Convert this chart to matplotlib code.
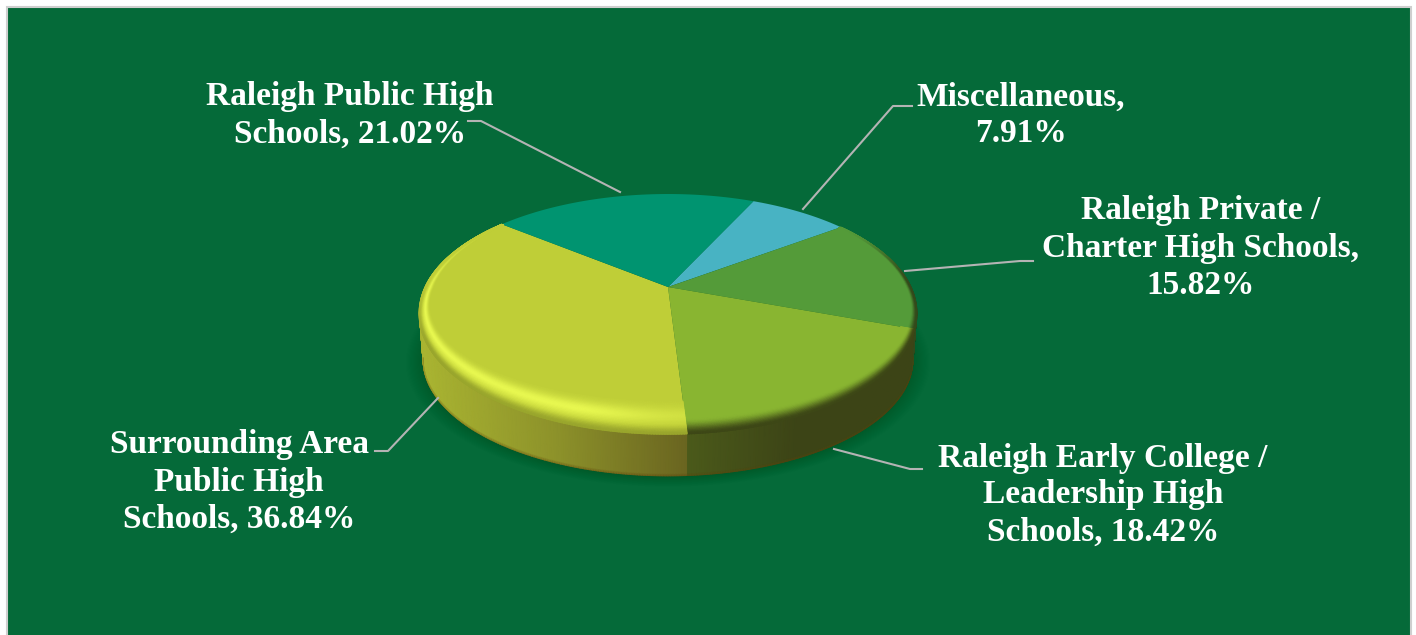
import numpy as np
import matplotlib
matplotlib.use('Agg')
import matplotlib.pyplot as plt
from matplotlib.patches import Rectangle
from matplotlib.colors import to_rgb

# slices in clockwise order, beginning at the back of the pie
categories = ["Miscellaneous", "Raleigh Private / Charter", "Raleigh Early College",
              "Surrounding Area", "Raleigh Public"]
shares = [7.91, 15.82, 18.42, 36.84, 21.02]
slice_colors = ["#48b3c3", "#549b39", "#89b531", "#bfce37", "#009470"]
label_formats = ["Miscellaneous,\n{:.2f}%",
                 "Raleigh Private /\nCharter High Schools,\n{:.2f}%",
                 "Raleigh Early College /\nLeadership High\nSchools, {:.2f}%",
                 "Surrounding Area\nPublic High\nSchools, {:.2f}%",
                 "Raleigh Public High\nSchools, {:.2f}%"]
label_centers = [(1021, 115.5), (1201, 248), (1103, 495), (239, 482), (350, 115.5)]
leaders = [[(803, 209), (893, 106), (912, 106)],
           [(905, 271), (1020, 261), (1033, 261)],
           [(834, 449), (910, 469), (922, 469)],
           [(438, 398), (388, 451), (375, 451)],
           [(620, 192), (481, 121), (468, 121)]]

BG = "#056a39"
START_ANGLE = 65.2
CX, APEX_Y = 668, 287
A, B, K = 243, 112.7, 0.212  # perspective of the pie top
DEPTH = 48
LOWER_SCALE = 0.985


def project(theta, depth=0, scale=1.0):
    u, v = np.cos(np.radians(theta)), np.sin(np.radians(theta))
    w = 1 + K * v
    return CX + A * scale * u / w, APEX_Y + depth - B * scale * v / w


def bevel_point(theta, t):
    # t=0 is the inner edge of the rounded rim, t=1 the outer edge
    x, y = project(theta)
    s_in = np.sin(np.radians(theta))
    s = np.where(s_in < 0, 0.965 - 0.165 * s_in ** 2, 0.965 + 0.035 * s_in)
    outer = 1 + 0.03 * np.where(s_in < 0, s_in ** 2, 0)
    f = s + (outer - s) * t
    return CX + (x - CX) * f, APEX_Y + (y - APEX_Y) * f


def smooth(s):
    s = np.clip(s, 0, 1)
    return s * s * (3 - 2 * s)


def mix(c1, c2, f):
    c1, c2 = np.array(to_rgb(c1)), np.array(to_rgb(c2))
    return c1 + (c2 - c1) * f


def wall_color(i, x):
    if i == 3:
        f = (x - 423) / (687 - 423)
        if f < 0.5:
            return mix("#a9b431", "#8d922a", max(f, 0) / 0.5)
        return mix("#8d922a", "#6a6520", (f - 0.5) / 0.5)
    if i == 2:
        return mix("#4b5a1a", "#3c4416", np.clip((x - 687) / 110, 0, 1))
    if i == 1:
        return np.array(to_rgb("#33491b"))
    return mix(slice_colors[i], "#000000", 0.5)


def rim_color(i, theta, t):
    base = slice_colors[i]
    if i == 3:
        ang = theta % 360
        h = smooth((ang - 140) / 50) * (1 - 0.55 * smooth((ang - 250) / 24))
        c = mix(base, "#e8f850", h * np.exp(-((t - 0.45) / 0.27) ** 2))
        return c * (1 - smooth((t - 0.68) / 0.32) * 0.2 * smooth((ang - 170) / 40))
    if i == 2:
        return mix(base, "#3d4716", smooth((t - 0.55) / 0.45))
    if i == 1:
        return mix(base, "#33491b", smooth((t - 0.5) / 0.5) * smooth((36 - theta) / 36))
    return np.array(to_rgb(base))


def slice_angles(i, step=0.5):
    a = np.arange(bounds[i], bounds[i + 1], -step)
    return np.append(a, bounds[i + 1])


fig = plt.figure(figsize=(14.16, 6.35), dpi=100, facecolor="white")
ax = fig.add_axes([0, 0, 1, 1])
ax.set_xlim(0, 1416)
ax.set_ylim(635, 0)
ax.axis('off')

ax.add_patch(Rectangle((6.5, 6.5), 1404, 640, facecolor=BG, edgecolor="#cfcfcf", lw=1.5, zorder=0))

# soft shadow under the pie
circle = np.linspace(0, 360, 361)
for grow in np.linspace(1.07, 1.0, 16):
    sx, sy = project(circle, DEPTH + 1, LOWER_SCALE * grow)
    ax.fill(sx, sy, color="black", alpha=0.009, lw=0, zorder=1)

bounds = START_ANGLE - np.concatenate([[0], np.cumsum(shares)]) / np.sum(shares) * 360

# side wall, shaded along x with a thin brown foot
levels = np.array([0, 0.96, 1.0])
for i in range(len(shares)):
    thetas = slice_angles(i)
    thetas = thetas[np.sin(np.radians(thetas)) < -0.2]
    if len(thetas) < 2:
        continue
    x0, y0 = project(thetas)
    x1, y1 = project(thetas, DEPTH, LOWER_SCALE)
    X = np.outer(1 - levels, x0) + np.outer(levels, x1)
    Y = np.outer(1 - levels, y0) + np.outer(levels, y1)
    C = np.zeros(X.shape + (3,))
    for j, xv in enumerate(x0):
        c = wall_color(i, xv)
        C[0, j] = c
        C[1, j] = c
        C[2, j] = c * 0.5 + np.array(to_rgb("#5f420a")) * 0.5
    ax.pcolormesh(X, Y, C, shading='gouraud', zorder=2)

# flat top of each slice
for i in range(len(shares)):
    thetas = np.linspace(bounds[i], bounds[i + 1], 200)
    x, y = project(thetas)
    ax.fill(np.r_[CX, x], np.r_[APEX_Y, y], color=slice_colors[i], lw=0, zorder=3)

# rounded rim on the front slices
ts = np.linspace(0, 1, 25)
for i in [1, 2, 3]:
    thetas = slice_angles(i)
    X = np.zeros((len(ts), len(thetas)))
    Y = np.zeros_like(X)
    C = np.zeros(X.shape + (3,))
    for a, t_val in enumerate(ts):
        X[a], Y[a] = bevel_point(thetas, t_val)
        for b, th in enumerate(thetas):
            C[a, b] = rim_color(i, th, t_val)
    ax.pcolormesh(X, Y, np.clip(C, 0, 1), shading='gouraud', zorder=4)

ax.set_xlim(0, 1416)
ax.set_ylim(635, 0)

for pts in leaders:
    ax.plot([p[0] for p in pts], [p[1] for p in pts], color="#b4b4b4", lw=1.5, zorder=5)

for fmt, val, (lx, ly) in zip(label_formats, shares, label_centers):
    ax.text(lx, ly, fmt.format(val), color="white", ha="center", va="center", multialignment="center",
            family="Liberation Serif", fontweight="bold", fontsize=24, linespacing=1.25, zorder=6)

fig.savefig("out.png", dpi=100, facecolor="white")
